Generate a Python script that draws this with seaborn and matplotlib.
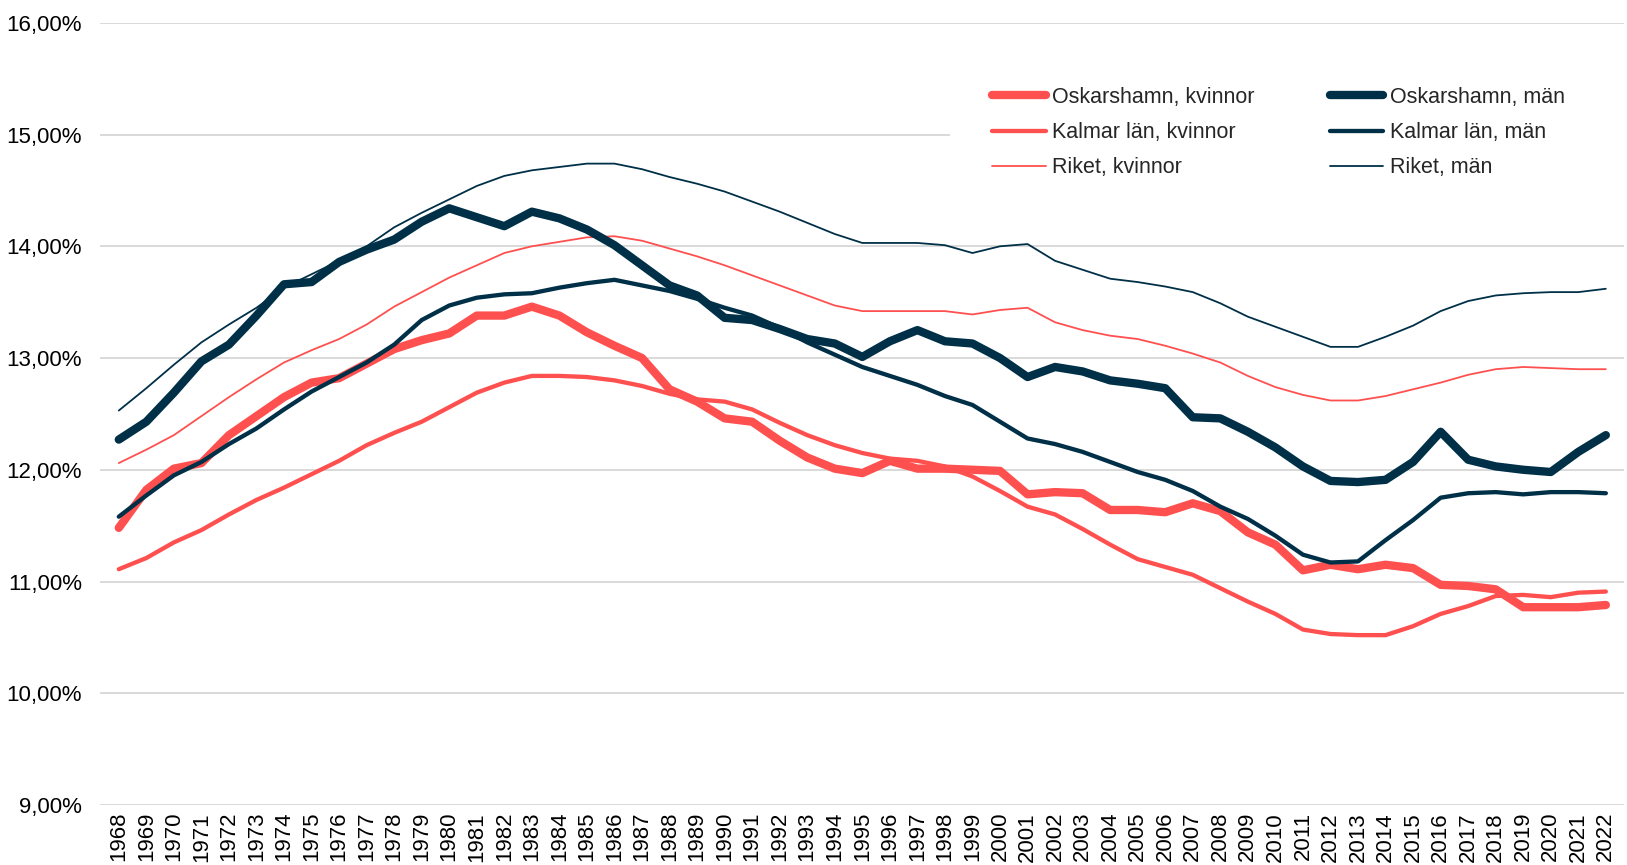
import pandas as pd
import numpy as np
import matplotlib
matplotlib.use("Agg")
import matplotlib.pyplot as plt
import seaborn as sns
from matplotlib.ticker import FuncFormatter
from matplotlib.patches import Rectangle

years = list(range(1968, 2023))

osk_kvinnor = [11.48, 11.82, 12.01, 12.06, 12.31, 12.48, 12.65, 12.78, 12.82, 12.95,
               13.08, 13.16, 13.22, 13.38, 13.38, 13.46, 13.38, 13.23, 13.11, 13.00,
               12.72, 12.61, 12.46, 12.43, 12.26, 12.11, 12.01, 11.97, 12.08, 12.01,
               12.01, 12.00, 11.99, 11.78, 11.80, 11.79, 11.64, 11.64, 11.62, 11.70,
               11.63, 11.44, 11.33, 11.10, 11.15, 11.11, 11.15, 11.12, 10.97, 10.96,
               10.93, 10.77, 10.77, 10.77, 10.79]
kalmar_kvinnor = [11.11, 11.21, 11.35, 11.46, 11.60, 11.73, 11.84, 11.96, 12.08, 12.22,
                  12.33, 12.43, 12.56, 12.69, 12.78, 12.84, 12.84, 12.83, 12.80, 12.75,
                  12.68, 12.63, 12.61, 12.54, 12.42, 12.31, 12.22, 12.15, 12.10, 12.08,
                  12.03, 11.94, 11.81, 11.67, 11.60, 11.47, 11.33, 11.20, 11.13, 11.06,
                  10.94, 10.82, 10.71, 10.57, 10.53, 10.52, 10.52, 10.60, 10.71, 10.78,
                  10.87, 10.88, 10.86, 10.90, 10.91]
riket_kvinnor = [12.06, 12.18, 12.31, 12.48, 12.65, 12.81, 12.96, 13.07, 13.17, 13.30,
                 13.46, 13.59, 13.72, 13.83, 13.94, 14.00, 14.04, 14.08, 14.09, 14.05,
                 13.98, 13.91, 13.83, 13.74, 13.65, 13.56, 13.47, 13.42, 13.42, 13.42,
                 13.42, 13.39, 13.43, 13.45, 13.32, 13.25, 13.20, 13.17, 13.11, 13.04,
                 12.96, 12.84, 12.74, 12.67, 12.62, 12.62, 12.66, 12.72, 12.78, 12.85,
                 12.90, 12.92, 12.91, 12.90, 12.90]
osk_man = [12.27, 12.43, 12.69, 12.97, 13.12, 13.38, 13.66, 13.68, 13.86, 13.97,
           14.06, 14.22, 14.34, 14.26, 14.18, 14.31, 14.25, 14.15, 14.01, 13.83,
           13.65, 13.56, 13.36, 13.34, 13.26, 13.17, 13.13, 13.01, 13.15, 13.25,
           13.15, 13.13, 13.00, 12.83, 12.92, 12.88, 12.80, 12.77, 12.73, 12.47,
           12.46, 12.34, 12.20, 12.03, 11.90, 11.89, 11.91, 12.07, 12.34, 12.09,
           12.03, 12.00, 11.98, 12.16, 12.31]
kalmar_man = [11.58, 11.77, 11.95, 12.07, 12.23, 12.37, 12.54, 12.70, 12.83, 12.96,
              13.12, 13.34, 13.47, 13.54, 13.57, 13.58, 13.63, 13.67, 13.70, 13.65,
              13.60, 13.53, 13.45, 13.38, 13.27, 13.14, 13.03, 12.92, 12.84, 12.76,
              12.66, 12.58, 12.43, 12.28, 12.23, 12.16, 12.07, 11.98, 11.91, 11.81,
              11.67, 11.56, 11.41, 11.24, 11.17, 11.18, 11.37, 11.55, 11.75, 11.79,
              11.80, 11.78, 11.80, 11.80, 11.79]
riket_man = [12.53, 12.73, 12.94, 13.14, 13.30, 13.45, 13.63, 13.75, 13.87, 14.00,
             14.17, 14.30, 14.42, 14.54, 14.63, 14.68, 14.71, 14.74, 14.74, 14.69,
             14.62, 14.56, 14.49, 14.40, 14.31, 14.21, 14.11, 14.03, 14.03, 14.03,
             14.01, 13.94, 14.00, 14.02, 13.87, 13.79, 13.71, 13.68, 13.64, 13.59,
             13.49, 13.37, 13.28, 13.19, 13.10, 13.10, 13.19, 13.29, 13.42, 13.51,
             13.56, 13.58, 13.59, 13.59, 13.62]

red = "#FF5050"
dark = "#003047"

series = [
    ("Oskarshamn, kvinnor", osk_kvinnor, red, 6.0),
    ("Kalmar län, kvinnor", kalmar_kvinnor, red, 3.1),
    ("Riket, kvinnor", riket_kvinnor, red, 1.3),
    ("Oskarshamn, män", osk_man, dark, 6.0),
    ("Kalmar län, män", kalmar_man, dark, 3.1),
    ("Riket, män", riket_man, dark, 1.3),
]

sns.set_style("white")
plt.rcParams["font.family"] = ["Liberation Sans", "DejaVu Sans"]

fig = plt.figure(figsize=(16.27, 8.65), dpi=100)
ax = fig.add_axes([0.0615, 0.0694, 0.9365, 0.9042])

for name, vals, col, lw in series:
    sns.lineplot(x=years, y=vals, ax=ax, color=col, linewidth=lw, label=name,
                 solid_capstyle="round", solid_joinstyle="round")

ax.set_ylim(9, 16)
ax.set_yticks(np.arange(9, 16.5, 1))
ax.yaxis.set_major_formatter(FuncFormatter(lambda v, p: f"{v:.2f}".replace(".", ",") + "%"))
ax.set_xlim(1968 - 0.68, 2022 + 0.65)
ax.set_xticks(years)
ax.set_xticklabels([str(y) for y in years], rotation=90)
ax.tick_params(axis="both", length=0, labelsize=16, colors="black")
ax.tick_params(axis="y", pad=13)
ax.tick_params(axis="x", pad=5)
ax.yaxis.grid(True, color="#D9D9D9", linewidth=1.4)
ax.set_axisbelow(True)
ax.set_xlabel("")
ax.set_ylabel("")
sns.despine(ax=ax, left=True, bottom=True)

# white legend area (hides the gridline behind the legend, like the original)
ax.add_patch(Rectangle((0.5839, 0.726), 0.42, 0.222, transform=fig.transFigure,
                       facecolor="white", edgecolor="none", zorder=1.5, clip_on=False))

leg = ax.legend(ncol=2, loc="upper left", bbox_to_anchor=(0.5839, 0.948),
                bbox_transform=fig.transFigure, borderaxespad=0, fontsize=15.5,
                frameon=False, handlelength=2.5, handletextpad=0.28,
                columnspacing=3.5, labelspacing=0.66, borderpad=1.95)
leg.set_zorder(5)

fig.savefig("out.png", dpi=100)
